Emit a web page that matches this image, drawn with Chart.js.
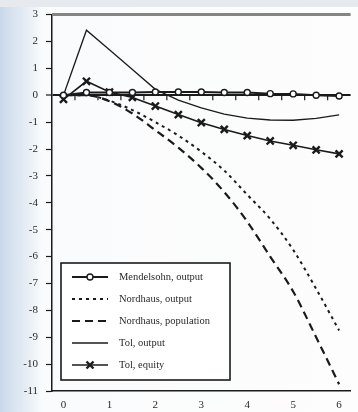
<!DOCTYPE html>
<html>
<head>
<meta charset="utf-8">
<script src="https://cdn.jsdelivr.net/npm/chart.js@4/dist/chart.umd.min.js"></script>
<style>
  html, body { margin: 0; padding: 0; }
  body {
    width: 358px; height: 412px; overflow: hidden; position: relative;
    background: linear-gradient(to right, #c9d8e9 0px, #d9e4f0 14px, #eaf0f6 30px, #fafbfc 42px, #fdfdfd 100%);
  }
  #topband { position: absolute; left: 0; top: 0; width: 358px; height: 7px; background: #e6eaee; }
  #wrap { position: absolute; left: 0; top: 0; width: 358px; height: 412px; }
</style>
</head>
<body>
<div id="topband"></div>
<div id="wrap"><canvas id="c" width="358" height="412"></canvas></div>
<script>
// ---- data ----
const years = [0, 0.5, 1, 1.5, 2, 2.5, 3, 3.5, 4, 4.5, 5, 5.5, 6];
const seriesLabels = ["Mendelsohn, output", "Nordhaus, output", "Nordhaus, population", "Tol, output", "Tol, equity"];
const mendelsohnOutput = [0, 0.1, 0.1, 0.1, 0.12, 0.12, 0.12, 0.1, 0.1, 0.06, 0.05, 0, -0.03];
const nordhausOutput   = [0, 0, -0.2, -0.55, -1.0, -1.5, -2.1, -2.8, -3.7, -4.6, -5.75, -7.2, -8.75];
const nordhausPop      = [0, 0, -0.22, -0.68, -1.3, -1.95, -2.7, -3.6, -4.7, -6.0, -7.3, -9.0, -10.75];
const tolOutput        = [0, 2.42, 1.69, 0.96, 0.22, -0.18, -0.47, -0.7, -0.85, -0.92, -0.93, -0.86, -0.73];
const tolEquity        = [-0.15, 0.52, 0.12, -0.08, -0.4, -0.72, -1.02, -1.27, -1.5, -1.7, -1.86, -2.03, -2.18];
const xTickLabels = [0, 1, 2, 3, 4, 5, 6];
const yTickLabels = [3, 2, 1, 0, -1, -2, -3, -4, -5, -6, -7, -8, -9, -10, -11];
const zeroLineTicks = [0.25, 0.75, 1.25, 1.75, 2.25, 2.75, 3.25, 3.75, 4.25, 4.75, 5.25, 5.75];

const pts = arr => years.map((x, i) => ({ x: x, y: arr[i] }));
const INK = '#1b1b1b';
const SERIF = '"Liberation Serif", "DejaVu Serif", serif';

const datasets = [
  { label: seriesLabels[0], data: pts(mendelsohnOutput), borderColor: INK, borderWidth: 2,
    pointStyle: 'circle', pointRadius: 3, pointBorderWidth: 1.4, pointBackgroundColor: '#ffffff', pointBorderColor: INK, order: 1 },
  { label: seriesLabels[1], data: pts(nordhausOutput), borderColor: INK, borderWidth: 2, borderDash: [3, 4],
    pointRadius: 0, cubicInterpolationMode: 'monotone', order: 4 },
  { label: seriesLabels[2], data: pts(nordhausPop), borderColor: INK, borderWidth: 2.2, borderDash: [8, 5],
    pointRadius: 0, cubicInterpolationMode: 'monotone', order: 5 },
  { label: seriesLabels[3], data: pts(tolOutput), borderColor: INK, borderWidth: 1.3,
    pointRadius: 0, tension: 0, order: 3 },
  { label: seriesLabels[4], data: pts(tolEquity), borderColor: INK, borderWidth: 1.6,
    pointStyle: 'crossRot', pointRadius: 5, pointBorderWidth: 2.4, pointBorderColor: INK, order: 2 }
];

// zero line ticks, top frame and inset legend
const decor = {
  id: 'decor',
  beforeDatasetsDraw(chart) {
    const { ctx, scales: { x, y } } = chart;
    ctx.save();
    const y0 = y.getPixelForValue(0);
    ctx.strokeStyle = INK; ctx.lineWidth = 1.2;
    zeroLineTicks.forEach(v => {
      const px = x.getPixelForValue(v);
      ctx.beginPath(); ctx.moveTo(px, y0); ctx.lineTo(px, y0 + 5); ctx.stroke();
    });
    ctx.restore();
  },
  afterDraw(chart) {
    const { ctx, chartArea: a } = chart;
    ctx.save();
    ctx.strokeStyle = '#858585'; ctx.lineWidth = 3;
    ctx.beginPath(); ctx.moveTo(a.left, a.top); ctx.lineTo(a.right, a.top); ctx.stroke();
    const bx = a.left + 9, by = 263, bw = 169, bh = 117;
    ctx.fillStyle = '#ffffff'; ctx.fillRect(bx, by, bw, bh);
    ctx.strokeStyle = INK; ctx.lineWidth = 1.6; ctx.strokeRect(bx, by, bw, bh);
    chart.data.datasets.forEach((ds, i) => {
      const ry = by + 14 + i * 22;
      const x1 = bx + 11, x2 = bx + 47, xm = (x1 + x2) / 2;
      ctx.strokeStyle = ds.borderColor; ctx.lineWidth = ds.borderWidth;
      ctx.setLineDash(ds.borderDash || []);
      ctx.beginPath(); ctx.moveTo(x1, ry); ctx.lineTo(x2, ry); ctx.stroke();
      ctx.setLineDash([]);
      if (ds.pointRadius > 0) {
        ctx.fillStyle = ds.pointBackgroundColor || 'transparent';
        ctx.strokeStyle = ds.pointBorderColor || INK;
        ctx.lineWidth = ds.pointBorderWidth;
        ctx.beginPath();
        if (ds.pointStyle === 'circle') {
          ctx.arc(xm, ry, ds.pointRadius, 0, Math.PI * 2); ctx.fill(); ctx.stroke();
        } else {
          const r = ds.pointRadius;
          ctx.moveTo(xm - r * 0.7, ry - r * 0.7); ctx.lineTo(xm + r * 0.7, ry + r * 0.7);
          ctx.moveTo(xm + r * 0.7, ry - r * 0.7); ctx.lineTo(xm - r * 0.7, ry + r * 0.7);
          ctx.stroke();
        }
      }
      ctx.fillStyle = '#2a2a2a';
      ctx.font = '10.5px ' + SERIF;
      ctx.textBaseline = 'middle'; ctx.textAlign = 'left';
      ctx.fillText(ds.label, bx + 58, ry + 0.5);
    });
    ctx.restore();
  }
};

new Chart(document.getElementById('c'), {
  type: 'line',
  data: { datasets },
  plugins: [decor],
  options: {
    responsive: false,
    animation: false,
    layout: { padding: { top: 12, right: 0, left: 0, bottom: 0 } },
    plugins: { legend: { display: false }, tooltip: { enabled: false } },
    scales: {
      x: {
        type: 'linear', min: -0.25, max: 6.25,
        afterBuildTicks: s => { s.ticks = xTickLabels.map(v => ({ value: v })); },
        afterFit: s => { s.height = 21; },
        grid: { drawOnChartArea: false, drawTicks: false },
        border: { display: true, color: INK, width: 1.5 },
        ticks: { color: '#2a2a2a', font: { family: SERIF, size: 11 }, padding: 8, maxRotation: 0,
                 callback: v => String(v) }
      },
      y: {
        type: 'linear', min: -11, max: 3,
        afterBuildTicks: s => { s.ticks = yTickLabels.map(v => ({ value: v })); },
        afterFit: s => { s.width = 52; },
        grid: {
          color: c => (c.tick && c.tick.value === 0) ? INK : 'rgba(0,0,0,0)',
          lineWidth: c => (c.tick && c.tick.value === 0) ? 2 : 1,
          tickColor: INK, tickLength: 6, tickWidth: 1.2
        },
        border: { display: true, color: INK, width: 1.5 },
        ticks: { color: '#2a2a2a', font: { family: SERIF, size: 11 }, padding: 8,
                 callback: v => String(v) }
      }
    }
  }
});
</script>
</body>
</html>
